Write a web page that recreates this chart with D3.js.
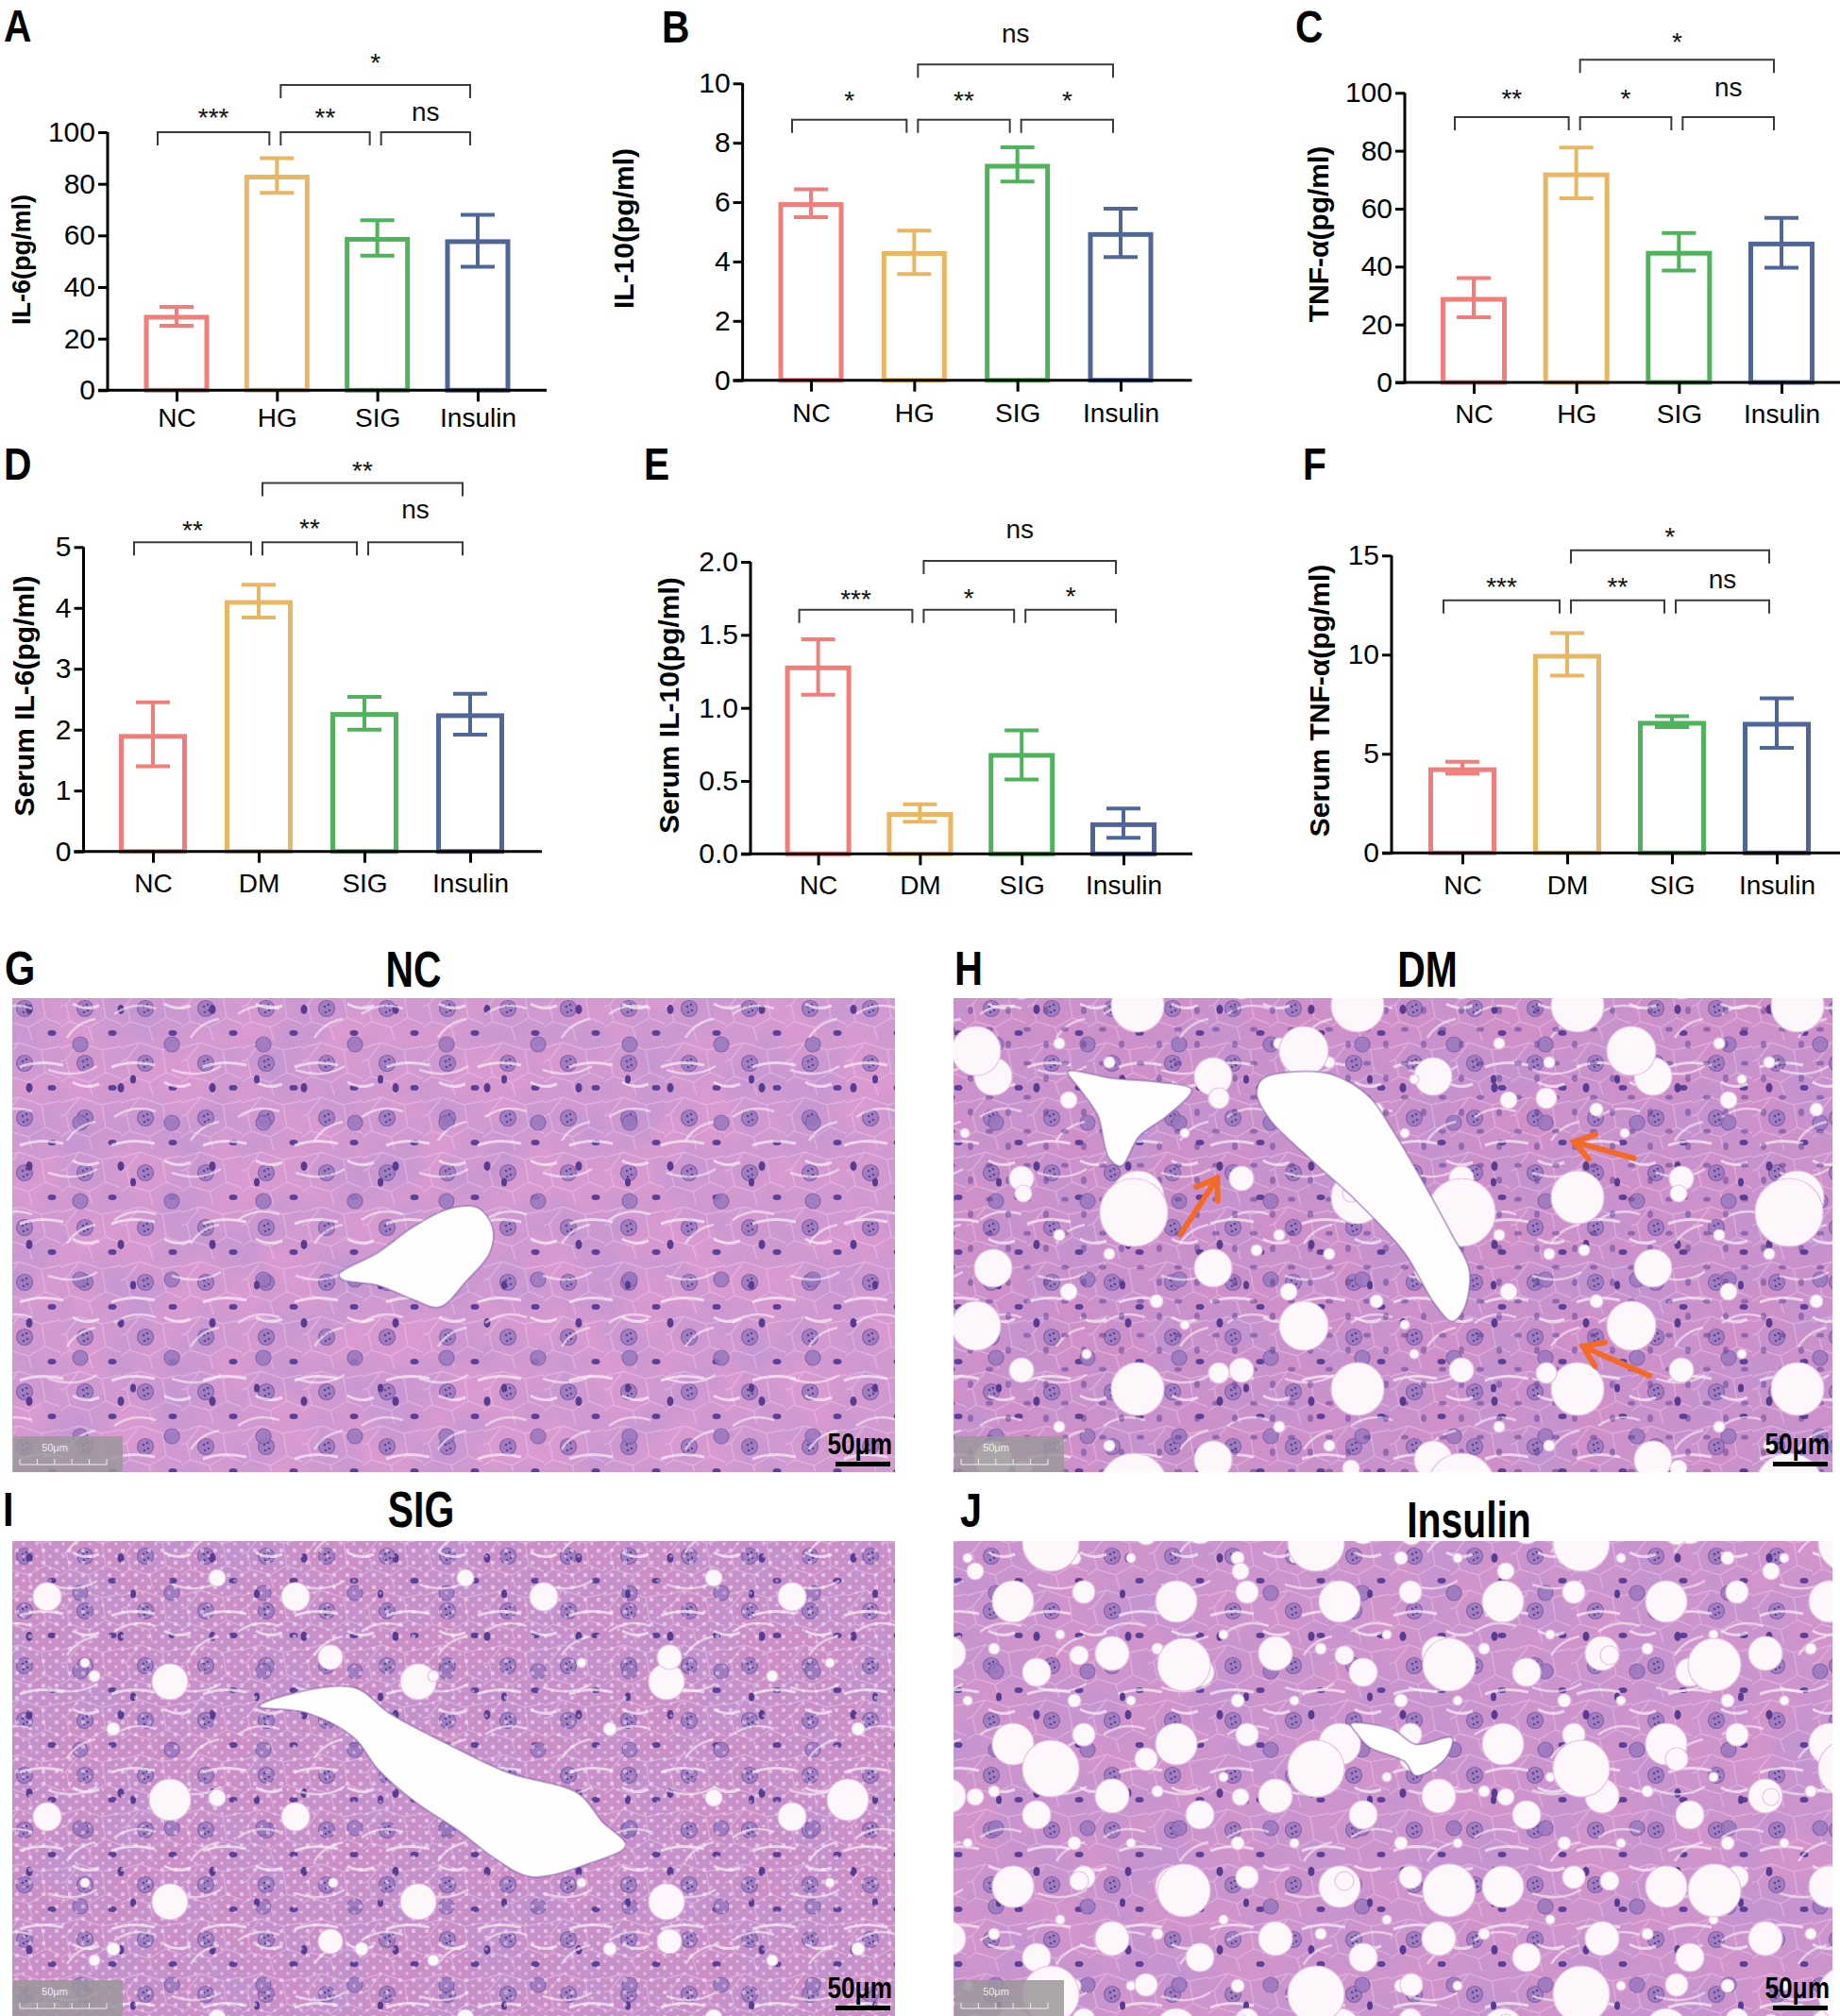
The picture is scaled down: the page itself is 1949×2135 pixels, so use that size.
<!DOCTYPE html>
<html><head><meta charset="utf-8">
<script src="https://cdn.jsdelivr.net/npm/d3@7"></script>
<style>
body{margin:0;background:#fff}
svg{display:block}
text{font-family:"Liberation Sans",Arial,Helvetica,sans-serif}
</style>
</head><body>
<svg id="fig" width="1949" height="2135"></svg>
<script>
// ---------------- DATA ----------------
const groupsInVitro = ["NC", "HG", "SIG", "Insulin"];
const groupsInVivo = ["NC", "DM", "SIG", "Insulin"];
const barColors = ["#F27E7C", "#E8B764", "#4FB25D", "#506699"];

// A: IL-6 (cells)
const il6Mean = [28.3, 82.6, 58.5, 57.6];
const il6Low = [25.0, 76.5, 52.2, 47.9];
const il6High = [32.3, 89.9, 65.9, 68.0];
const il6Ticks = [0, 20, 40, 60, 80, 100];
const il6Sig = [["NC","HG",100,102.2,"***"],["HG","SIG",100,102.2,"**"],["SIG","Insulin",100,104.3,"ns"],["HG","Insulin",118.3,123.4,"*"]];

// B: IL-10 (cells)
const il10Mean = [5.92, 4.27, 7.21, 4.91];
const il10Low = [5.49, 3.58, 6.69, 4.15];
const il10High = [6.43, 5.04, 7.85, 5.78];
const il10Ticks = [0, 2, 4, 6, 8, 10];
const il10Sig = [["NC","HG",8.78,9.12,"*"],["HG","SIG",8.78,9.12,"**"],["SIG","Insulin",8.78,9.12,"*"],["HG","Insulin",10.64,11.37,"ns"]];

// C: TNF-a (cells)
const tnfMean = [28.7, 71.7, 44.6, 47.8];
const tnfLow = [22.5, 63.6, 38.6, 39.6];
const tnfHigh = [36.0, 81.1, 51.6, 56.8];
const tnfTicks = [0, 20, 40, 60, 80, 100];
const tnfSig = [["NC","HG",91.6,94.8,"**"],["HG","SIG",91.6,94.8,"*"],["SIG","Insulin",91.6,98.9,"ns"],["HG","Insulin",111.4,114.3,"*"]];

// D: serum IL-6
const sIl6Mean = [1.89, 4.09, 2.25, 2.23];
const sIl6Low = [1.40, 3.84, 2.00, 1.92];
const sIl6High = [2.45, 4.38, 2.54, 2.59];
const sIl6Ticks = [0, 1, 2, 3, 4, 5];
const sIl6Sig = [["NC","DM",5.08,5.13,"**"],["DM","SIG",5.08,5.16,"**"],["SIG","Insulin",5.08,5.47,"ns"],["DM","Insulin",6.05,6.11,"**"]];

// E: serum IL-10
const sIl10Mean = [1.274, 0.27, 0.675, 0.20];
const sIl10Low = [1.09, 0.22, 0.51, 0.11];
const sIl10High = [1.47, 0.34, 0.845, 0.31];
const sIl10Ticks = [0, 0.5, 1.0, 1.5, 2.0];
const sIl10Sig = [["NC","DM",1.672,1.681,"***"],["DM","SIG",1.672,1.691,"*"],["SIG","Insulin",1.672,1.70,"*"],["DM","Insulin",2.006,2.161,"ns"]];

// F: serum TNF-a
const sTnfMean = [4.2, 9.92, 6.54, 6.49];
const sTnfLow = [4.0, 8.94, 6.35, 5.3];
const sTnfHigh = [4.6, 11.08, 6.9, 7.8];
const sTnfTicks = [0, 5, 10, 15];
const sTnfSig = [["NC","DM",12.74,12.97,"***"],["DM","SIG",12.74,12.97,"**"],["SIG","Insulin",12.74,13.33,"ns"],["DM","Insulin",15.27,15.5,"*"]];

// ---------------- DRAWING ----------------
const svg = d3.select("#fig");
svg.append("rect").attr("width",1949).attr("height",2135).attr("fill","#fff");

function condensed(sel, x, y, size, sx, txt, anchor) {
  return sel.append("text").attr("transform", `translate(${x},${y}) scale(${sx},1)`)
    .attr("text-anchor", anchor || "start").attr("font-size", size).attr("font-weight","bold").attr("fill","#000").text(txt);
}

const barPanels = [
  {letter:"A", groups:groupsInVitro, mean:il6Mean, lo:il6Low, hi:il6High, ticks:il6Ticks, sig:il6Sig, title:"IL-6(pg/ml)", fmt:d3.format("d"),
   L:{axisX:114, yTop:140, yBottom:413.3, c0:187, c3:506, axisEnd:579, barW:69, catY:39, tX:23, tY:275, tSize:27, lX:4, lY:44}},
  {letter:"B", groups:groupsInVitro, mean:il10Mean, lo:il10Low, hi:il10High, ticks:il10Ticks, sig:il10Sig, title:"IL-10(pg/ml)", fmt:d3.format("d"),
   L:{axisX:786.6, yTop:88.3, yBottom:402.7, c0:859, c3:1187, axisEnd:1262.5, barW:69, catY:44, tX:660, tY:242, tSize:30, lX:701, lY:45}},
  {letter:"C", groups:groupsInVitro, mean:tnfMean, lo:tnfLow, hi:tnfHigh, ticks:tnfTicks, sig:tnfSig, title:"TNF-α(pg/ml)", fmt:d3.format("d"),
   L:{axisX:1488, yTop:98.3, yBottom:405, c0:1561, c3:1887, axisEnd:1949, barW:70, catY:43, tX:1396, tY:248, tSize:30, lX:1372, lY:45}},
  {letter:"D", groups:groupsInVivo, mean:sIl6Mean, lo:sIl6Low, hi:sIl6High, ticks:sIl6Ticks, sig:sIl6Sig, title:"Serum IL-6(pg/ml)", fmt:d3.format("d"),
   L:{axisX:88.5, yTop:579.3, yBottom:901.7, c0:162, c3:498, axisEnd:574, barW:72, catY:43, tX:25, tY:737, tSize:30, lX:4, lY:508}},
  {letter:"E", groups:groupsInVivo, mean:sIl10Mean, lo:sIl10Low, hi:sIl10High, ticks:sIl10Ticks, sig:sIl10Sig, title:"Serum IL-10(pg/ml)", fmt:d3.format(".1f"),
   L:{axisX:795, yTop:595, yBottom:904.3, c0:866.6, c3:1190, axisEnd:1263, barW:70, catY:43, tX:708, tY:747, tSize:30, lX:682, lY:508}},
  {letter:"F", groups:groupsInVivo, mean:sTnfMean, lo:sTnfLow, hi:sTnfHigh, ticks:sTnfTicks, sig:sTnfSig, title:"Serum TNF-α(pg/ml)", fmt:d3.format("d"),
   L:{axisX:1474, yTop:588.3, yBottom:903.3, c0:1549, c3:1882, axisEnd:1949, barW:72, catY:44, tX:1397, tY:742, tSize:30, lX:1380, lY:508}}
];

function drawBarPanel(p) {
  const L = p.L;
  const g = svg.append("g");
  const y = d3.scaleLinear().domain([0, p.ticks[p.ticks.length - 1]]).range([L.yBottom, L.yTop]);
  const x = d3.scalePoint().domain(p.groups).range([L.c0, L.c3]);
  const rows = p.groups.map((k, i) => ({k, i, m:p.mean[i], lo:p.lo[i], hi:p.hi[i], c:barColors[i]}));
  const sw = 5;

  g.selectAll("rect.bar").data(rows).join("rect").attr("class","bar")
    .attr("x", d => x(d.k) - L.barW/2 + sw/2)
    .attr("width", L.barW - sw)
    .attr("y", d => y(d.m))
    .attr("height", d => y(0) - y(d.m))
    .attr("fill","#fff").attr("stroke", d => d.c).attr("stroke-width", sw);

  const cap = 18;
  const eb = g.selectAll("g.err").data(rows).join("g").attr("class","err")
    .attr("stroke", d => d.c).attr("stroke-width", 4).attr("fill","none");
  eb.append("line").attr("x1", d => x(d.k)).attr("x2", d => x(d.k)).attr("y1", d => y(d.hi)).attr("y2", d => y(d.lo));
  eb.append("line").attr("x1", d => x(d.k) - cap).attr("x2", d => x(d.k) + cap).attr("y1", d => y(d.hi)).attr("y2", d => y(d.hi));
  eb.append("line").attr("x1", d => x(d.k) - cap).attr("x2", d => x(d.k) + cap).attr("y1", d => y(d.lo)).attr("y2", d => y(d.lo));

  const ya = g.append("g").attr("transform", `translate(${L.axisX},0)`)
    .call(d3.axisLeft(y).tickValues(p.ticks).tickFormat(p.fmt).tickSize(10).tickSizeOuter(0).tickPadding(3));
  ya.select(".domain").attr("stroke","#000").attr("stroke-width",3).attr("d", `M0,${L.yBottom + 1.5}V${L.yTop}`);
  ya.selectAll(".tick line").attr("stroke","#000").attr("stroke-width",3);
  ya.selectAll(".tick text").attr("font-size",30).attr("fill","#000").attr("font-family",'"Liberation Sans",Arial,sans-serif');

  g.append("line").attr("x1", L.axisX - 10).attr("x2", L.axisEnd).attr("y1", y(0)).attr("y2", y(0))
    .attr("stroke","#000").attr("stroke-width",3);
  const xa = g.append("g").attr("transform", `translate(0,${y(0)})`)
    .call(d3.axisBottom(x).tickSize(12).tickSizeOuter(0));
  xa.select(".domain").remove();
  xa.selectAll(".tick line").attr("stroke","#000").attr("stroke-width",3);
  xa.selectAll(".tick text").attr("font-size",28).attr("fill","#000").attr("y", L.catY).attr("dy", 0)
    .attr("font-family",'"Liberation Sans",Arial,sans-serif');

  const sg = g.append("g");
  p.sig.forEach(s => {
    const [a, b, lvl, labLvl, txt] = s;
    const x1 = x(a) + (p.groups.indexOf(a) === 0 ? -20 : 4);
    const x2 = x(b) - 8;
    const yy = y(lvl);
    sg.append("path").attr("d", `M${x1},${yy + 14}V${yy}H${x2}V${yy + 14}`)
      .attr("fill","none").attr("stroke","#3a3a3a").attr("stroke-width",2);
    sg.append("text").attr("x", (x1 + x2) / 2).attr("y", y(labLvl)).attr("text-anchor","middle")
      .attr("font-size",28).attr("fill","#111").text(txt);
  });

  g.append("text").attr("transform", `translate(${L.tX},${L.tY}) rotate(-90)`).attr("text-anchor","middle")
    .attr("dy","0.35em").attr("font-size", L.tSize).attr("font-weight","bold").attr("fill","#000").text(p.title);

  condensed(g, L.lX, L.lY, 48, 0.85, p.letter);
}
barPanels.forEach(drawBarPanel);

// ---------------- HISTOLOGY (illustrative texture) ----------------
const defs = svg.append("defs");
function pat(id, w, h, fn, ox, oy) {
  const p = defs.append("pattern").attr("id", id).attr("patternUnits","userSpaceOnUse").attr("width", w).attr("height", h)
    .attr("x", ox || 0).attr("y", oy || 0);
  fn(p);
}
pat("cellsA", 64, 58, p => {
  p.append("path").attr("d","M0,8 L20,2 L44,10 L64,6 M44,10 L48,34 L64,40 M48,34 L30,44 L10,38 L0,44 M30,44 L34,58 M10,38 L6,20 L20,2 M6,20 L0,22")
    .attr("stroke","#F1CDEB").attr("stroke-width",1.4).attr("fill","none").attr("opacity",0.45);
  p.append("circle").attr("cx",26).attr("cy",24).attr("r",8.5).attr("fill","#9D7ABF").attr("stroke","#7B59A5").attr("stroke-width",1.2).attr("opacity",0.9);
  [[24,22],[29,26],[25,28],[28,20]].forEach(c => p.append("circle").attr("cx",c[0]).attr("cy",c[1]).attr("r",1.3).attr("fill","#62438F"));
  p.append("ellipse").attr("cx",55).attr("cy",50).attr("rx",4.5).attr("ry",3).attr("fill","#5E3F94");
});
pat("cellsB", 97, 83, p => {
  p.append("circle").attr("cx",68).attr("cy",16).attr("r",8).attr("fill","#9A77BD").attr("stroke","#7A58A4").attr("stroke-width",1.2).attr("opacity",0.85);
  p.append("ellipse").attr("cx",14).attr("cy",62).attr("rx",3.5).attr("ry",5).attr("fill","#5A3B90");
  p.append("path").attr("d","M4,40 q22,-8 46,-2 M60,56 q14,8 28,2").attr("stroke","#FBEFF9").attr("stroke-width",3).attr("fill","none").attr("opacity",0.7);
}, 17, 11);
pat("cellsC", 131, 109, p => {
  p.append("path").attr("d","M10,20 q30,10 52,-4 M80,70 q20,-14 44,-6 M30,95 q10,-16 30,-20").attr("stroke","#FBEFF9").attr("stroke-width",2.5).attr("fill","none").attr("opacity",0.6);
  p.append("ellipse").attr("cx",100).attr("cy",30).attr("rx",3).attr("ry",4.5).attr("fill","#583A8F");
}, 41, 23);
pat("inflam", 40, 36, p => {
  p.append("ellipse").attr("cx",8).attr("cy",10).attr("rx",4).attr("ry",2.6).attr("fill","#4F3387");
  p.append("ellipse").attr("cx",28).attr("cy",26).attr("rx",3).attr("ry",4).attr("fill","#553A8E");
});
const vac = "#FDF7FC";
function vacPat(id, w, h, circles, ox, oy) {
  pat(id, w, h, p => {
    circles.forEach(c => p.append("circle").attr("cx",c[0]).attr("cy",c[1]).attr("r",c[2])
      .attr("fill",vac).attr("stroke","#E6C2E2").attr("stroke-width",1.2));
  }, ox, oy);
}
vacPat("vacDM1", 233, 203, [[40,50,28],[150,30,13],[120,125,20],[200,150,9],[60,160,7],[190,90,6],[90,185,5],[10,110,6]], 0, 0);
vacPat("vacDM2", 347, 291, [[70,80,36],[250,200,26],[300,60,9],[160,250,11],[20,230,5],[200,120,6]], 90, 40);
vacPat("vacSIG1", 263, 233, [[50,60,15],[180,150,19],[120,200,7],[230,40,9],[90,130,5]], 0, 0);
vacPat("vacSIG2", 359, 301, [[120,80,22],[290,230,13],[40,250,6]], 60, 20);
pat("foam", 14, 13, p => {
  p.append("circle").attr("cx",4).attr("cy",4).attr("r",2.3).attr("fill","#fff").attr("opacity",0.45);
  p.append("circle").attr("cx",11).attr("cy",10).attr("r",1.8).attr("fill","#fff").attr("opacity",0.4);
});
vacPat("vacIns1", 173, 151, [[35,35,22],[110,25,12],[140,90,18],[60,110,15],[100,140,7],[160,140,5],[15,85,6],[85,70,5]], 0, 0);
vacPat("vacIns2", 281, 239, [[60,60,28],[200,170,30],[230,50,10],[120,200,9],[20,160,12]], 70, 30);

const mot = defs.append("filter").attr("id","mottle").attr("x",0).attr("y",0).attr("width",1).attr("height",1);
mot.append("feTurbulence").attr("type","fractalNoise").attr("baseFrequency",0.018).attr("numOctaves",3).attr("seed",7);
mot.append("feColorMatrix").attr("type","matrix").attr("values","0 0 0 0 0.50  0 0 0 0 0.30  0 0 0 0 0.66  1.3 0 0 0 -0.42");

const histoPanels = [
  {letter:"G", title:groupsInVivo[0], x:13, y:1057, w:935, h:502, base:"#D89AD0", lX:5, lY:1043, tX:438, tY:1045,
   layers:["cellsA","cellsB","cellsC"],
   veins:[[[0.370,0.583],[0.414,0.537],[0.454,0.483],[0.494,0.445],[0.527,0.442],[0.544,0.483],[0.541,0.537],[0.514,0.598],[0.484,0.652],[0.454,0.636],[0.414,0.606],[0.374,0.594]]],
   arrows:[]},
  {letter:"H", title:groupsInVivo[1], x:1010, y:1057, w:931, h:502, base:"#CF90C9", lX:1011, lY:1043, tX:1512, tY:1045,
   layers:["cellsA","cellsB","cellsC","inflamSparse","vacDM1","vacDM2"],
   veins:[[[0.352,0.170],[0.392,0.155],[0.432,0.162],[0.473,0.208],[0.499,0.277],[0.533,0.384],[0.567,0.499],[0.587,0.575],[0.580,0.659],[0.567,0.682],[0.547,0.644],[0.513,0.537],[0.459,0.429],[0.405,0.338],[0.359,0.254],[0.345,0.201]],
          [[0.130,0.155],[0.184,0.170],[0.231,0.177],[0.271,0.193],[0.244,0.247],[0.211,0.292],[0.191,0.354],[0.177,0.338],[0.164,0.247],[0.144,0.193]]],
   arrows:[[0.258,0.499,0.300,0.380],[0.774,0.338,0.706,0.303],[0.792,0.797,0.716,0.735]]},
  {letter:"I", title:groupsInVivo[2], x:13, y:1632, w:935, h:503, base:"#CC8EC6", lX:3, lY:1616, tX:446, tY:1617,
   layers:["cellsA","cellsB","cellsC","foam","vacSIG1","vacSIG2"],
   veins:[[[0.307,0.326],[0.387,0.308],[0.427,0.362],[0.494,0.428],[0.561,0.487],[0.641,0.531],[0.668,0.590],[0.695,0.641],[0.655,0.678],[0.588,0.707],[0.548,0.670],[0.507,0.612],[0.454,0.546],[0.414,0.480],[0.387,0.414],[0.334,0.362],[0.280,0.348]]],
   arrows:[]},
  {letter:"J", title:groupsInVivo[3], x:1010, y:1632, w:931, h:503, base:"#D194CB", lX:1017, lY:1617, tX:1556, tY:1628,
   layers:["cellsA","cellsB","cellsC","vacIns1","vacIns2"],
   veins:[[[0.452,0.385],[0.499,0.396],[0.526,0.428],[0.567,0.414],[0.560,0.457],[0.526,0.494],[0.513,0.464],[0.473,0.434],[0.459,0.406]]],
   arrows:[]}
];

function drawHisto(h) {
  const cid = "clip" + h.letter;
  defs.append("clipPath").attr("id", cid).append("rect").attr("x", h.x).attr("y", h.y).attr("width", h.w).attr("height", h.h);
  const g = svg.append("g").attr("clip-path", `url(#${cid})`);
  g.append("rect").attr("x", h.x).attr("y", h.y).attr("width", h.w).attr("height", h.h).attr("fill", h.base);
  g.append("rect").attr("x", h.x).attr("y", h.y).attr("width", h.w).attr("height", h.h).attr("fill", "#000").attr("filter","url(#mottle)");
  h.layers.forEach(id => {
    const real = id === "inflamSparse" ? "inflam" : id;
    g.append("rect").attr("x", h.x).attr("y", h.y).attr("width", h.w).attr("height", h.h)
      .attr("fill", `url(#${real})`).attr("opacity", id === "inflamSparse" ? 0.45 : 1);
  });
  const sx = d3.scaleLinear().domain([0,1]).range([h.x, h.x + h.w]);
  const sy = d3.scaleLinear().domain([0,1]).range([h.y, h.y + h.h]);
  const line = d3.line().x(d => sx(d[0])).y(d => sy(d[1])).curve(d3.curveCatmullRomClosed);
  h.veins.forEach(v => {
    g.append("path").attr("d", line(v)).attr("fill","#FFFDFE").attr("stroke","#7D5AA6").attr("stroke-width",2).attr("stroke-opacity",0.5);
  });
  h.arrows.forEach(a => {
    const x1 = sx(a[0]), y1 = sy(a[1]), x2 = sx(a[2]), y2 = sy(a[3]);
    const ang = Math.atan2(y2 - y1, x2 - x1);
    const hl = 24, spread = 0.6;
    const ag = g.append("g").attr("stroke","#F26A2A").attr("stroke-width",6).attr("stroke-linecap","round").attr("fill","none");
    ag.append("line").attr("x1", x1).attr("y1", y1).attr("x2", x2).attr("y2", y2);
    ag.append("path").attr("d", `M${x2 - hl*Math.cos(ang - spread)},${y2 - hl*Math.sin(ang - spread)}L${x2},${y2}L${x2 - hl*Math.cos(ang + spread)},${y2 - hl*Math.sin(ang + spread)}`);
  });
  const right = h.x + h.w, bottom = h.y + h.h;
  g.append("rect").attr("x", h.x + 1).attr("y", bottom - 38).attr("width", 116).attr("height", 38).attr("fill","#9C979B").attr("opacity",0.85);
  g.append("text").attr("x", h.x + 45).attr("y", bottom - 22).attr("text-anchor","middle").attr("font-size",11).attr("fill","#EEE").text("50μm");
  const rg = g.append("g").attr("stroke","#EEE").attr("stroke-width",1);
  rg.append("line").attr("x1", h.x + 8).attr("x2", h.x + 100).attr("y1", bottom - 8).attr("y2", bottom - 8);
  d3.range(6).forEach(i => rg.append("line").attr("x1", h.x + 8 + i*18.4).attr("x2", h.x + 8 + i*18.4).attr("y1", bottom - 14).attr("y2", bottom - 8));
  condensed(svg, right - 3, bottom - 19, 32, 0.82, "50μm", "end");
  svg.append("rect").attr("x", right - 63).attr("y", bottom - 11).attr("width", 58).attr("height", 5).attr("fill","#000");
  condensed(svg, h.lX, h.lY, 50, 0.83, h.letter);
  condensed(svg, h.tX, h.tY, 53, 0.77, h.title, "middle");
}
histoPanels.forEach(drawHisto);
</script>
</body></html>
